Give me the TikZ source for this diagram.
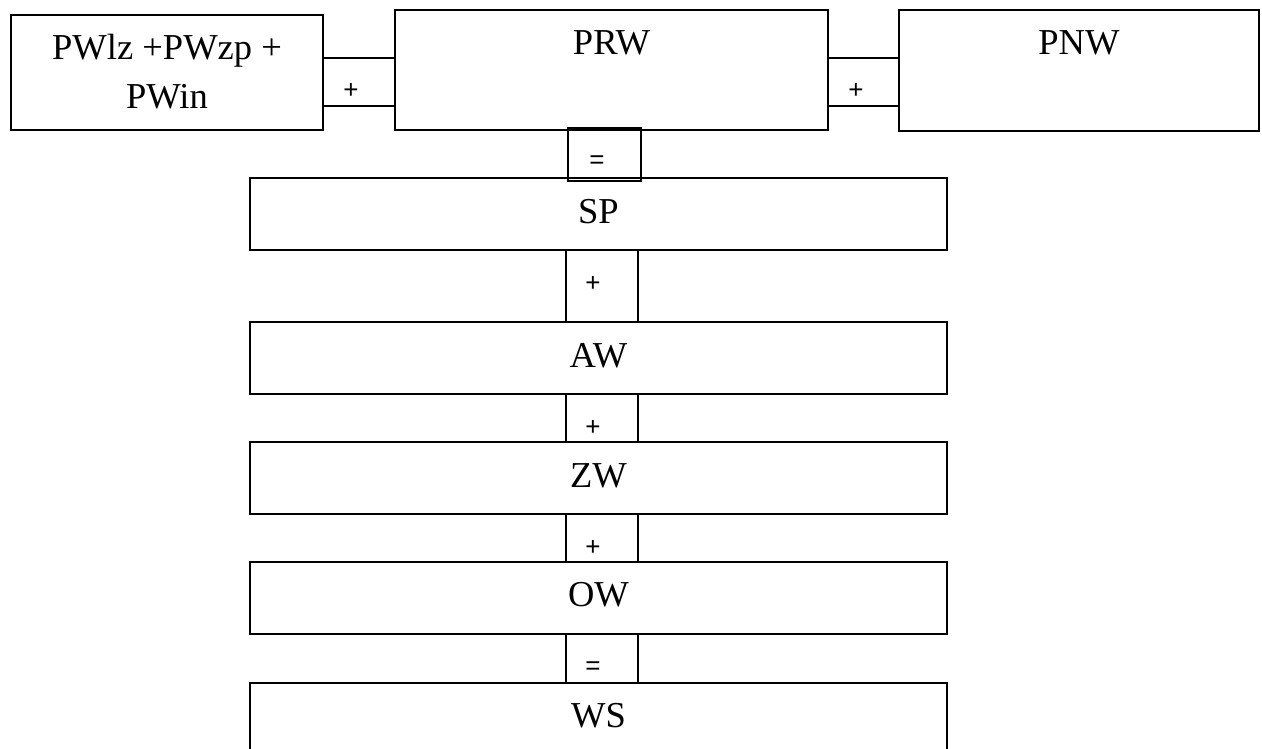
\documentclass[tikz,border=0pt]{standalone}
\usepackage{fontspec}
\setmainfont{Liberation Serif}
\newfontfamily\opfont{Liberation Sans}
\usetikzlibrary{calc}
\tikzset{
  termbox/.style={draw=black, line width=2.2pt, rectangle, inner sep=0pt, outer sep=0pt, anchor=north west},
  opbox/.style={draw=black, line width=2pt, rectangle, inner sep=0pt, outer sep=0pt, anchor=north west},
  termtext/.style={anchor=base, inner sep=0pt, font=\fontsize{36.5}{40}\selectfont},
  optext/.style={anchor=base, inner sep=0pt, font=\opfont\fontsize{26}{28}\selectfont},
}
\begin{document}
\begin{tikzpicture}[x=1pt, y=1pt]
  \clip (0,0) rectangle (1262,-749);
  \fill[white] (0,0) rectangle (1262,-749);

  % top row
  \node[termbox, minimum width=312pt, minimum height=115pt] (pw)  at (11,-15)  {};
  \node[termbox, minimum width=433pt, minimum height=120pt] (prw) at (395,-10) {};
  \node[termbox, minimum width=360pt, minimum height=121pt] (pnw) at (899,-10) {};
  \node[opbox, minimum width=72pt, minimum height=48pt] (op1) at (pw.east |- 0,-58)  {};
  \node[opbox, minimum width=71pt, minimum height=48pt] (op2) at (prw.east |- 0,-58) {};

  \node[termtext] (pwa) at (167,-60)  {PWlz +PWzp +};
  \node[termtext] (pwb) at (167,-109) {PWin};
  \node[termtext] (prwt) at ($(prw.north)+(0,-45)$) {PRW};
  \node[termtext] (pnwt) at ($(pnw.north)+(0,-45)$) {PNW};
  \node[optext] (op1t) at ($(op1.north west)+(28,-41)$) {+};
  \node[optext] (op2t) at ($(op2.north west)+(28,-41)$) {+};

  % column of sums
  \node[termbox, minimum width=697pt, minimum height=72pt] (sp) at (250,-178) {};
  \node[termbox, minimum width=697pt, minimum height=72pt] (aw) at (250,-322) {};
  \node[termbox, minimum width=697pt, minimum height=72pt] (zw) at (250,-442) {};
  \node[termbox, minimum width=697pt, minimum height=72pt] (ow) at (250,-562) {};
  \node[termbox, minimum width=697pt, minimum height=72pt] (ws) at (250,-683) {};

  \node[opbox, minimum width=73pt, minimum height=53pt] (eq1) at (568,-128) {};
  \node[opbox, minimum width=72pt, minimum height=72pt] (op3) at (sp.south -| 566,0) {};
  \node[opbox, minimum width=72pt, minimum height=48pt] (op4) at (aw.south -| 566,0) {};
  \node[opbox, minimum width=72pt, minimum height=48pt] (op5) at (zw.south -| 566,0) {};
  \node[opbox, minimum width=72pt, minimum height=49pt] (eq2) at (ow.south -| 566,0) {};

  \node[termtext] at ($(sp.north)+(0,-45)$) {SP};
  \node[termtext] at ($(aw.north)+(0,-45)$) {AW};
  \node[termtext] at ($(zw.north)+(0,-45)$) {ZW};
  \node[termtext] at ($(ow.north)+(0,-44)$) {OW};
  \node[termtext] at ($(ws.north)+(0,-44)$) {WS};

  \node[optext] at ($(eq1.north west)+(29,-40)$) {=};
  \node[optext] at ($(op3.north west)+(27,-41)$) {+};
  \node[optext] at ($(op4.north west)+(27,-41)$) {+};
  \node[optext] at ($(op5.north west)+(27,-41)$) {+};
  \node[optext] at ($(eq2.north west)+(27,-40)$) {=};
\end{tikzpicture}
\end{document}
